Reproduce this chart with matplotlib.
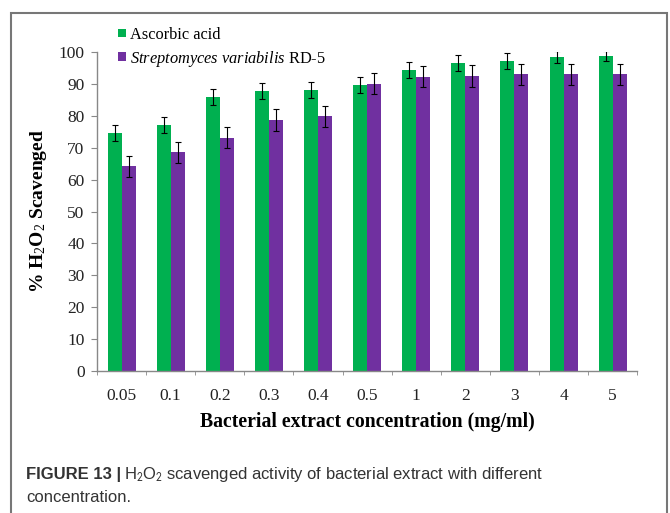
import numpy as np
import matplotlib
matplotlib.use("Agg")
import matplotlib.pyplot as plt
from matplotlib.patches import Rectangle
from matplotlib.transforms import offset_copy

# Data
concentrations = ["0.05", "0.1", "0.2", "0.3", "0.4", "0.5", "1", "2", "3", "4", "5"]
ascorbic = [74.5, 77.2, 86.0, 87.8, 88.2, 89.8, 94.5, 96.5, 97.2, 98.5, 98.7]
ascorbic_err = [2.5, 2.5, 2.5, 2.5, 2.5, 2.5, 2.5, 2.5, 2.5, 1.8, 1.5]
streptomyces = [64.2, 68.6, 73.2, 78.6, 79.8, 90.0, 92.3, 92.5, 93.0, 93.0, 93.0]
streptomyces_err = [3.3, 3.3, 3.3, 3.5, 3.3, 3.3, 3.4, 3.4, 3.4, 3.4, 3.4]

green = "#00b050"
purple = "#7030a0"
serif = "Liberation Serif"
sans = "Liberation Sans"

plt.rcParams["mathtext.fontset"] = "custom"
plt.rcParams["mathtext.rm"] = "Liberation Serif"
plt.rcParams["mathtext.it"] = "Liberation Serif:italic"
plt.rcParams["mathtext.bf"] = "Liberation Serif:bold"

fig = plt.figure(figsize=(6.7, 5.13), dpi=100)
ax = fig.add_axes([0.1448, 0.2768, 0.8062, 0.6218])

x = np.arange(len(concentrations))
w = 0.285
err_kw = dict(ecolor="black", elinewidth=0.8, capsize=2, capthick=0.8)
ax.bar(x - w / 2, ascorbic, w, yerr=ascorbic_err, color=green,
       error_kw=err_kw, label="Ascorbic acid")
ax.bar(x + w / 2, streptomyces, w, yerr=streptomyces_err, color=purple,
       error_kw=err_kw, label=r"$\it{Streptomyces\ variabilis}$ RD-5")

ax.set_xlim(-0.5, len(concentrations) - 0.5)
ax.set_ylim(0, 100)
ax.set_yticks(np.arange(0, 101, 10))
ax.set_xticks(x)
ax.set_xticklabels(concentrations)
ax.set_xticks(np.arange(-0.5, len(concentrations)), minor=True)
ax.tick_params(axis="x", which="major", length=0, pad=12)
ax.tick_params(axis="x", which="minor", length=3, color="#888888")
ax.tick_params(axis="y", length=4, color="#888888", pad=5)
for lab in ax.get_xticklabels() + ax.get_yticklabels():
    lab.set_fontfamily(serif)
    lab.set_fontsize(12.5)
    lab.set_color("#222222")

for side in ["top", "right"]:
    ax.spines[side].set_visible(False)
for side in ["left", "bottom"]:
    ax.spines[side].set_color("#888888")
    ax.spines[side].set_linewidth(1.0)

ax.set_ylabel(r"% H$_2$O$_2$ Scavenged", fontfamily=serif, fontweight="bold",
              fontsize=14, labelpad=7)
ax.set_xlabel("Bacterial extract concentration (mg/ml)", fontfamily=serif,
              fontweight="bold", fontsize=14.2, labelpad=6)

leg = ax.legend(loc="upper left", bbox_to_anchor=(0.012, 1.125), frameon=False,
                prop={"family": serif, "size": 11.8}, handlelength=0.45,
                handleheight=0.45, handletextpad=0.25, labelspacing=0.35)

# caption: bold prefix, then the rest placed right after it
cap_x = 26 / 670
head = fig.text(cap_x, 1 - 479 / 513, "FIGURE 13 |", fontfamily=sans,
                fontweight="bold", fontsize=12, color="#333333", va="baseline")
fig.canvas.draw()
bb = head.get_window_extent()
rest = offset_copy(fig.transFigure, fig=fig, x=(bb.x1 - bb.x0) + 3, units="dots")
fig.text(cap_x, 1 - 479 / 513,
         r"H$_2$O$_2$ scavenged activity of bacterial extract with different",
         fontfamily=sans, fontsize=12, color="#333333", va="baseline",
         math_fontfamily="stixsans", transform=rest)
fig.text(cap_x, 1 - 502 / 513, "concentration.", fontfamily=sans,
         fontsize=12, color="#333333", va="baseline")

# outer frame
fig.patches.append(Rectangle((11 / 670, -0.02), 656 / 670, 1 - 13 / 513 + 0.02,
                             transform=fig.transFigure, fill=False,
                             edgecolor="#777777", linewidth=1.5))

fig.savefig("out.png", dpi=100)
